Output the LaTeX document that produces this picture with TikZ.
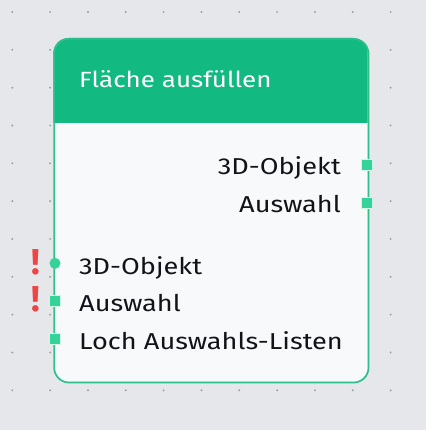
\documentclass[tikz,border=0pt]{standalone}
\usepackage{fontspec}
\setmainfont{Fira Sans}[FakeStretch=1.18]
\newfontfamily\warnfont{Fira Sans}
\definecolor{bg}{HTML}{E5E7EB}
\definecolor{dotc}{HTML}{9CA0A8}
\definecolor{header}{HTML}{12B981}
\definecolor{border}{HTML}{2EBF8A}
\definecolor{body}{HTML}{F7F9FB}
\definecolor{txt}{HTML}{111318}
\definecolor{port}{HTML}{34D39A}
\definecolor{portedge}{HTML}{D4F5E6}
\definecolor{warn}{HTML}{EF4444}
\tikzset{
  lbl/.style={text=txt, font=\fontsize{23}{26}\selectfont, inner sep=0pt},
  sqport/.style={draw=portedge, line width=0.8pt, fill=port, minimum size=11pt, inner sep=0pt},
  rdport/.style={circle, fill=port, minimum size=11pt, inner sep=0pt},
  warnmark/.style={text=warn, font=\warnfont\fontsize{36}{36}\selectfont\bfseries, inner sep=0pt}
}
\begin{document}
\begin{tikzpicture}[x=1pt,y=-1pt]
\fill[bg] (0,0) rectangle (426,430);
\useasboundingbox (0,0) rectangle (426,430);
\foreach \i in {0,...,10} \foreach \j in {0,...,10}
  \fill[dotc] (12.3+37.83*\i, 12+37.83*\j) circle (1.1);
% node body
\fill[body, rounded corners=15pt] (53.3,38) rectangle (367.7,381.7);
\begin{scope}
  \clip (50,35) rectangle (370,123);
  \fill[header, rounded corners=15pt] (53.3,38) rectangle (367.7,200);
\end{scope}
\node[draw=border, line width=1.7pt, rounded corners=15pt, minimum width=314.4pt, minimum height=343.7pt, inner sep=0pt, anchor=north west] (box) at (53.3,38) {};
\node[anchor=base west, text=white, font=\fontsize{22}{26}\selectfont, inner sep=0pt] (title) at (79,87.3) {Fläche ausfüllen};
% outputs
\node[lbl, anchor=base east] (out1) at (341,175) {3D-Objekt};
\node[lbl, anchor=base east] (out2) at (341,212.7) {Auswahl};
\node[sqport] (p1) at (366.5,165.3) {};
\node[sqport] (p2) at (366.5,203) {};
% inputs
\node[lbl, anchor=base west] (in1) at (79,274) {3D-Objekt};
\node[lbl, anchor=base west] (in2) at (79,311) {Auswahl};
\node[lbl, anchor=base west] (in3) at (79,349) {Loch Auswahls-Listen};
\node[rdport] (q1) at (55,263.3) {};
\node[sqport] (q2) at (55,301) {};
\node[sqport] (q3) at (55,339) {};
\node[warnmark, anchor=base] (w1) at (35.7,274) {!};
\node[warnmark, anchor=base] (w2) at (35.7,311.7) {!};
\end{tikzpicture}
\end{document}
